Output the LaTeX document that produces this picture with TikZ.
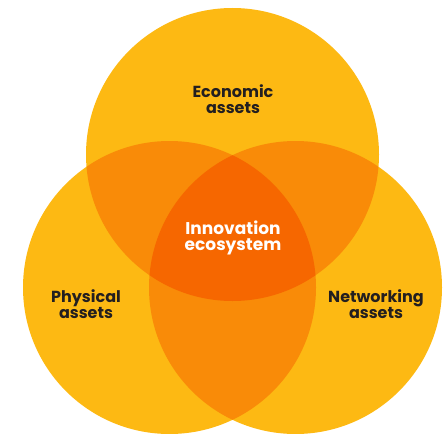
\documentclass[tikz,border=0pt]{standalone}
\usepackage{fontspec}
\setmainfont{Poppins}
\usepackage{tikz}
\usetikzlibrary{positioning}
\definecolor{oneset}{HTML}{FDB913}
\definecolor{twoset}{HTML}{F98B08}
\definecolor{threeset}{HTML}{F66700}
\definecolor{ink}{HTML}{231F20}

\begin{document}
\begin{tikzpicture}[x=1pt, y=-1pt,
    asset/.style={font=\bfseries\fontsize{16}{16}\selectfont, align=center, text=ink},
    core/.style={asset, font=\bfseries\fontsize{17}{16}\selectfont, text=white}]
    \useasboundingbox (0,0) rectangle (446,433);

    % Circles
    \coordinate (eco) at (232.5,154.5);
    \coordinate (phy) at (169.5,287.5);
    \coordinate (net) at (295.5,287.5);
    \fill[oneset] (eco) circle (146.5pt);
    \fill[oneset] (phy) circle (146.5pt);
    \fill[oneset] (net) circle (146.5pt);

    % Overlaps
    \begin{scope}
        \clip (eco) circle (146.5pt);
        \fill[twoset] (phy) circle (146.5pt);
        \fill[twoset] (net) circle (146.5pt);
    \end{scope}
    \begin{scope}
        \clip (phy) circle (146.5pt);
        \fill[twoset] (net) circle (146.5pt);
    \end{scope}
    \begin{scope}
        \clip (eco) circle (146.5pt);
        \clip (phy) circle (146.5pt);
        \fill[threeset] (net) circle (146.5pt);
    \end{scope}

    % Labels
    \node[asset] (economic) at (233,99) {Economic\\assets};
    \node[core] (innovation) at (233,238) {Innovation\\ecosystem};
    \node[asset] (physical) at (86,304) {Physical\\assets};
    \node[asset] (networking) at (376,304) {Networking\\assets};
\end{tikzpicture}
\end{document}
